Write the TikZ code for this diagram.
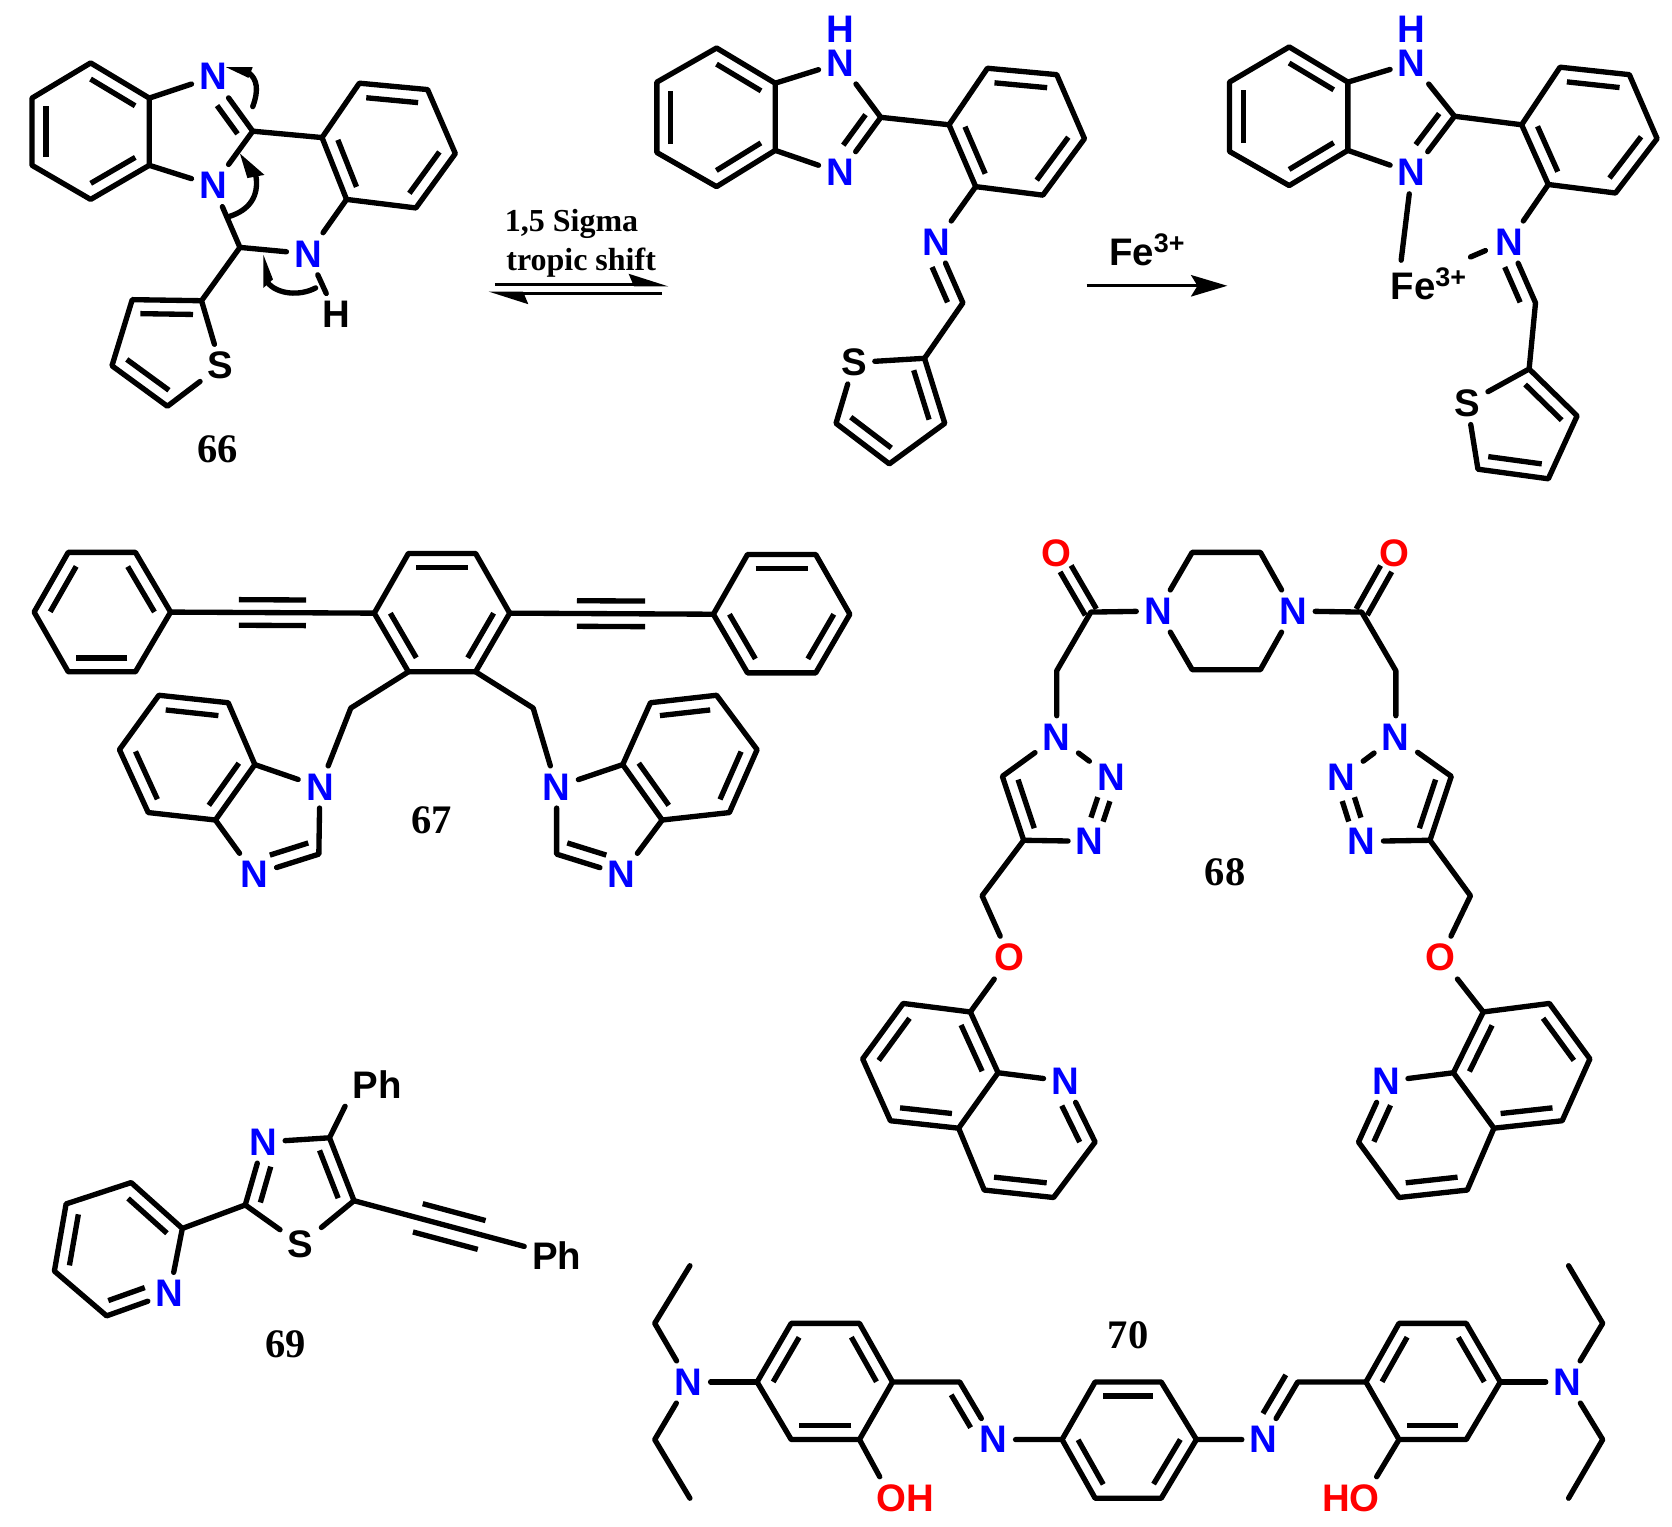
\documentclass[tikz,border=0pt]{standalone}
\usepackage{fontspec}
\setmainfont{Liberation Serif}
\setsansfont{Liberation Sans}
\usetikzlibrary{calc, arrows.meta}

% line beside the bond #1--#2, on the right when walking from #1 to #2
\newcommand{\sidebond}[5]{\draw [inner] ($(#1)!#3!(#2)!#5!-90:(#2)$) -- ($(#2)!#4!(#1)!#5!90:(#1)$);}
\newcommand{\ringbond}[2]{\sidebond{#1}{#2}{.12}{.12}{6.5pt}}

\definecolor{atomblue}{RGB}{0,0,255}
\definecolor{atomred}{RGB}{255,0,0}

\tikzset{
	bond/.style = {line width = 2.5pt, line cap = round, line join = round},
	inner/.style = {line width = 2.5pt},
	atom/.style = {font = \sffamily\bfseries\fontsize{18}{18}\selectfont, inner sep = 3.5pt},
	natom/.style = {atom, text = atomblue},
	oatom/.style = {atom, text = atomred},
	tag/.style = {font = \bfseries\fontsize{19}{19}\selectfont, inner sep = 0pt},
	note/.style = {font = \bfseries\fontsize{15}{15}\selectfont, inner sep = 0pt},
	halfarrow/.style = {line width = 1.6pt, -{Stealth[harpoon, length = 16pt, width = 10pt, inset = 2pt]}},
}

\begin{document}
\begin{tikzpicture}[x = 0.5pt, y = -0.5pt]

	\useasboundingbox (0, 0) rectangle (1568, 1432);

	% Compound 66
	\coordinate (a1) at (85, 59); \coordinate (a2) at (140, 92); \coordinate (a3) at (140, 155);
	\coordinate (a4) at (85, 187); \coordinate (a5) at (30, 155); \coordinate (a6) at (30, 92);
	\coordinate (b1) at (302, 129); \coordinate (b2) at (337, 78); \coordinate (b3) at (401, 84);
	\coordinate (b4) at (427, 144); \coordinate (b5) at (390, 195); \coordinate (b6) at (325, 187);
	\coordinate (t1) at (189, 282); \coordinate (t2) at (124, 281); \coordinate (t3) at (105, 343);
	\coordinate (t4) at (157, 381);
	\coordinate (a-c) at (237, 123); \coordinate (a-ch) at (225, 232);
	\node [natom] (a-n1) at (200, 72) {N};
	\node [natom] (a-n2) at (200, 174) {N};
	\node [natom] (a-n3) at (289, 238) {N};
	\node [atom] (a-h) at (315, 295) {H};
	\node [atom] (a-s) at (207, 343) {S};
	\node [tag] (tag66) at (204, 421) {66};

	\draw [bond] (a1) -- (a2) -- (a3) -- (a4) -- (a5) -- (a6) -- cycle;
	\draw [bond] (a2) -- (a-n1) -- (a-c) -- (a-n2) -- (a3);
	\draw [bond] (b1) -- (b2) -- (b3) -- (b4) -- (b5) -- (b6) -- cycle;
	\draw [bond] (a-c) -- (b1);
	\draw [bond] (a-n2) -- (a-ch) -- (a-n3) -- (b6);
	\draw [bond] (a-n3) -- (a-h);
	\draw [bond] (a-ch) -- (t1) -- (t2) -- (t3) -- (t4) -- (a-s) -- (t1);
	\ringbond{a1}{a2} \ringbond{a3}{a4} \ringbond{a5}{a6}
	\ringbond{b2}{b3} \ringbond{b4}{b5} \ringbond{b6}{b1}
	\ringbond{t2}{t1} \ringbond{t4}{t3}
	\sidebond{a-n1}{a-c}{.38}{.1}{6.5pt}

	% Curly arrows on 66
	\coordinate (ca1) at (237, 100); \coordinate (ca2) at (233, 68);
	\coordinate (ca3) at (212, 63); \coordinate (ca4) at (237, 63); \coordinate (ca5) at (233, 73);
	\draw [bond] (ca1) .. controls (243, 84) and (241, 74) .. (ca2);
	\fill (ca3) -- (ca4) -- (ca5) -- cycle;
	\coordinate (cb1) at (215, 203); \coordinate (cb2) at (240, 165);
	\coordinate (cb3) at (225, 144); \coordinate (cb4) at (232, 167); \coordinate (cb5) at (248, 164);
	\draw [bond] (cb1) .. controls (234, 197) and (243, 184) .. (cb2);
	\fill (cb3) -- (cb4) -- (cb5) -- cycle;
	\coordinate (cc1) at (296, 270); \coordinate (cc2) at (251, 265);
	\coordinate (cc3) at (247, 239); \coordinate (cc4) at (247, 270); \coordinate (cc5) at (256, 262);
	\draw [bond] (cc1) .. controls (281, 278) and (260, 276) .. (cc2);
	\fill (cc3) -- (cc4) -- (cc5) -- cycle;

	% Shift arrows
	\node [note] (shift1) at (536, 210) {1,5 Sigma};
	\node [note] (shift2) at (545, 246) {tropic shift};
	\coordinate (up1) at (464, 267); \coordinate (up2) at (627, 267);
	\coordinate (dn1) at (621, 275); \coordinate (dn2) at (458, 275);
	\draw [halfarrow] (up1) -- (up2);
	\draw [halfarrow] (dn1) -- (dn2);

	% Open form
	\coordinate (c1) at (672, 45); \coordinate (c2) at (727, 78); \coordinate (c3) at (727, 141);
	\coordinate (c4) at (672, 175); \coordinate (c5) at (616, 143); \coordinate (c6) at (616, 77);
	\coordinate (d1) at (890, 117); \coordinate (d2) at (926, 64); \coordinate (d3) at (991, 70);
	\coordinate (d4) at (1017, 130); \coordinate (d5) at (978, 183); \coordinate (d6) at (915, 175);
	\coordinate (e1) at (867, 336); \coordinate (e3) at (784, 397); \coordinate (e4) at (834, 435);
	\coordinate (e5) at (886, 397);
	\coordinate (c-c) at (826, 110); \coordinate (c-ch) at (903, 284);
	\node [natom] (c-n1) at (788, 59) {N};
	\node [natom, inner sep = 0pt] (c-h) at (788, 27) {H};
	\node [natom] (c-n2) at (788, 162) {N};
	\node [natom] (c-n3) at (878, 227) {N};
	\node [atom] (c-s) at (801, 340) {S};

	\draw [bond] (c1) -- (c2) -- (c3) -- (c4) -- (c5) -- (c6) -- cycle;
	\draw [bond] (c2) -- (c-n1) -- (c-c) -- (c-n2) -- (c3);
	\draw [bond] (d1) -- (d2) -- (d3) -- (d4) -- (d5) -- (d6) -- cycle;
	\draw [bond] (c-c) -- (d1);
	\draw [bond] (d6) -- (c-n3) -- (c-ch) -- (e1) -- (c-s) -- (e3) -- (e4) -- (e5) -- (e1);
	\ringbond{c1}{c2} \ringbond{c3}{c4} \ringbond{c5}{c6}
	\ringbond{d2}{d3} \ringbond{d4}{d5} \ringbond{d6}{d1}
	\ringbond{e1}{e5} \ringbond{e4}{e3}
	\sidebond{c-c}{c-n2}{.1}{.35}{6.5pt}
	\sidebond{c-n3}{c-ch}{.32}{.1}{6.5pt}

	% Fe arrow
	\node [atom, inner sep = 0pt] (fe-a) at (1076, 234) {Fe\textsuperscript{3+}};
	\coordinate (fe1) at (1019, 268); \coordinate (fe2) at (1151, 268);
	\draw [line width = 1.6pt, -{Stealth[length = 17pt, width = 10pt, inset = 3pt]}] (fe1) -- (fe2);

	% Fe complex
	\coordinate (f1) at (1209, 44); \coordinate (f2) at (1264, 77); \coordinate (f3) at (1264, 141);
	\coordinate (f4) at (1209, 174); \coordinate (f5) at (1153, 142); \coordinate (f6) at (1153, 77);
	\coordinate (g1) at (1427, 117); \coordinate (g2) at (1463, 63); \coordinate (g3) at (1528, 70);
	\coordinate (g4) at (1554, 130); \coordinate (g5) at (1515, 181); \coordinate (g6) at (1452, 173);
	\coordinate (h1) at (1434, 346); \coordinate (h3) at (1386, 440); \coordinate (h4) at (1452, 449);
	\coordinate (h5) at (1479, 390);
	\coordinate (f-c) at (1364, 109); \coordinate (f-ch) at (1440, 284);
	\coordinate (f-end) at (1314, 244); \coordinate (dash1) at (1379, 241); \coordinate (dash2) at (1393, 235);
	\node [natom] (f-n1) at (1324, 59) {N};
	\node [natom, inner sep = 0pt] (f-h) at (1324, 27) {H};
	\node [natom] (f-n2) at (1324, 162) {N};
	\node [natom] (f-n3) at (1415, 227) {N};
	\node [atom] (f-s) at (1376, 378) {S};
	\node [atom, inner sep = 0pt] (fe-b) at (1340, 266) {Fe\textsuperscript{3+}};

	\draw [bond] (f1) -- (f2) -- (f3) -- (f4) -- (f5) -- (f6) -- cycle;
	\draw [bond] (f2) -- (f-n1) -- (f-c) -- (f-n2) -- (f3);
	\draw [bond] (g1) -- (g2) -- (g3) -- (g4) -- (g5) -- (g6) -- cycle;
	\draw [bond] (f-c) -- (g1);
	\draw [bond] (g6) -- (f-n3) -- (f-ch) -- (h1) -- (f-s) -- (h3) -- (h4) -- (h5) -- (h1);
	\draw [bond] (f-n2) -- (f-end);
	\draw [bond] (dash1) -- (dash2);
	\ringbond{f1}{f2} \ringbond{f3}{f4} \ringbond{f5}{f6}
	\ringbond{g2}{g3} \ringbond{g4}{g5} \ringbond{g6}{g1}
	\ringbond{h1}{h5} \ringbond{h4}{h3}
	\sidebond{f-c}{f-n2}{.1}{.35}{6.5pt}
	\sidebond{f-n3}{f-ch}{.32}{.1}{6.5pt}

	% Compound 67
	\coordinate (i1) at (32, 574); \coordinate (i2) at (64, 518); \coordinate (i3) at (127, 518);
	\coordinate (i4) at (160, 574); \coordinate (i5) at (127, 630); \coordinate (i6) at (64, 630);
	\coordinate (k1) at (351, 575); \coordinate (k2) at (383, 519); \coordinate (k3) at (446, 519);
	\coordinate (k4) at (478, 575); \coordinate (k5) at (446, 630); \coordinate (k6) at (383, 630);
	\coordinate (l1) at (669, 576); \coordinate (l2) at (701, 520); \coordinate (l3) at (765, 520);
	\coordinate (l4) at (797, 576); \coordinate (l5) at (765, 631); \coordinate (l6) at (701, 631);
	\coordinate (m1) at (239, 717); \coordinate (m2) at (214, 659); \coordinate (m3) at (149, 652);
	\coordinate (m4) at (112, 703); \coordinate (m5) at (139, 762); \coordinate (m6) at (202, 769);
	\coordinate (n1) at (584, 717); \coordinate (n2) at (610, 659); \coordinate (n3) at (672, 652);
	\coordinate (n4) at (710, 703); \coordinate (n5) at (684, 762); \coordinate (n6) at (621, 769);
	\coordinate (m-ch) at (329, 664); \coordinate (m-c) at (299, 801);
	\coordinate (n-ch) at (500, 664); \coordinate (n-c) at (522, 801);
	\node [natom] (m-n1) at (300, 738) {N};
	\node [natom] (m-n2) at (239, 820) {N};
	\node [natom] (n-n1) at (522, 738) {N};
	\node [natom] (n-n2) at (583, 820) {N};
	\node [tag] (tag67) at (405, 769) {67};

	\draw [bond] (i1) -- (i2) -- (i3) -- (i4) -- (i5) -- (i6) -- cycle;
	\draw [bond] (k1) -- (k2) -- (k3) -- (k4) -- (k5) -- (k6) -- cycle;
	\draw [bond] (l1) -- (l2) -- (l3) -- (l4) -- (l5) -- (l6) -- cycle;
	\draw [bond] (i4) -- (k1);
	\draw [bond] (k4) -- (l1);
	\draw [bond] (k6) -- (m-ch) -- (m-n1) -- (m-c) -- (m-n2) -- (m6);
	\draw [bond] (k5) -- (n-ch) -- (n-n1) -- (n-c) -- (n-n2) -- (n6);
	\draw [bond] (m1) -- (m2) -- (m3) -- (m4) -- (m5) -- (m6) -- cycle;
	\draw [bond] (n1) -- (n2) -- (n3) -- (n4) -- (n5) -- (n6) -- cycle;
	\draw [bond] (m-n1) -- (m1);
	\draw [bond] (n-n1) -- (n1);
	\ringbond{i1}{i2} \ringbond{i3}{i4} \ringbond{i5}{i6}
	\ringbond{k2}{k3} \ringbond{k4}{k5} \ringbond{k6}{k1}
	\ringbond{l2}{l3} \ringbond{l4}{l5} \ringbond{l6}{l1}
	\ringbond{m3}{m2} \ringbond{m5}{m4} \ringbond{m1}{m6}
	\ringbond{n2}{n3} \ringbond{n4}{n5} \ringbond{n6}{n1}
	\sidebond{m-c}{m-n2}{.1}{.3}{6.5pt}
	\sidebond{n-n2}{n-c}{.3}{.1}{6.5pt}
	\sidebond{i4}{k1}{.335}{.335}{6pt} \sidebond{k1}{i4}{.335}{.335}{6pt}
	\sidebond{k4}{l1}{.33}{.335}{6pt} \sidebond{l1}{k4}{.335}{.33}{6pt}

	% Compound 68
	\coordinate (p1) at (1118, 518); \coordinate (p2) at (1182, 518);
	\coordinate (p3) at (1182, 628); \coordinate (p4) at (1118, 628);
	\coordinate (u-co) at (1023, 574); \coordinate (u-ch) at (991, 629);
	\coordinate (u-c4) at (960, 788); \coordinate (u-c5) at (940, 728); \coordinate (u-cq) at (921, 840);
	\coordinate (v-co) at (1277, 574); \coordinate (v-ch) at (1309, 629);
	\coordinate (v-c4) at (1341, 788); \coordinate (v-c5) at (1361, 728); \coordinate (v-cq) at (1379, 840);
	\coordinate (q1) at (910, 949); \coordinate (q2) at (847, 941); \coordinate (q3) at (809, 993);
	\coordinate (q4) at (835, 1051); \coordinate (q5) at (899, 1058); \coordinate (q6) at (936, 1006);
	\coordinate (q7) at (1027, 1071); \coordinate (q8) at (988, 1123); \coordinate (q9) at (923, 1116);
	\coordinate (r1) at (1391, 949); \coordinate (r2) at (1453, 941); \coordinate (r3) at (1491, 993);
	\coordinate (r4) at (1465, 1051); \coordinate (r5) at (1401, 1058); \coordinate (r6) at (1363, 1006);
	\coordinate (r7) at (1274, 1071); \coordinate (r8) at (1312, 1123); \coordinate (r9) at (1376, 1116);
	\node [natom] (p-n1) at (1086, 573) {N};
	\node [natom] (p-n2) at (1213, 573) {N};
	\node [oatom] (u-o1) at (991, 519) {O};
	\node [natom] (u-n1) at (991, 691) {N};
	\node [natom] (u-n2) at (1042, 729) {N};
	\node [natom] (u-n3) at (1022, 789) {N};
	\node [oatom] (u-o2) at (947, 898) {O};
	\node [natom] (q-n) at (999, 1014) {N};
	\node [oatom] (v-o1) at (1308, 519) {O};
	\node [natom] (v-n1) at (1309, 691) {N};
	\node [natom] (v-n2) at (1258, 729) {N};
	\node [natom] (v-n3) at (1277, 789) {N};
	\node [oatom] (v-o2) at (1351, 898) {O};
	\node [natom] (r-n) at (1300, 1014) {N};
	\node [tag] (tag68) at (1149, 818) {68};

	\draw [bond] (p-n1) -- (p1) -- (p2) -- (p-n2) -- (p3) -- (p4) -- (p-n1);
	\draw [bond] (p-n1) -- (u-co) -- (u-ch) -- (u-n1) -- (u-n2);
	\draw [bond] (u-n1) -- (u-c5) -- (u-c4) -- (u-n3);
	\draw [bond] (u-c4) -- (u-cq) -- (u-o2) -- (q1);
	\draw [bond] (q1) -- (q2) -- (q3) -- (q4) -- (q5) -- (q6) -- cycle;
	\draw [bond] (q6) -- (q-n) -- (q7) -- (q8) -- (q9) -- (q5);
	\draw [bond] (p-n2) -- (v-co) -- (v-ch) -- (v-n1) -- (v-n2);
	\draw [bond] (v-n1) -- (v-c5) -- (v-c4) -- (v-n3);
	\draw [bond] (v-c4) -- (v-cq) -- (v-o2) -- (r1);
	\draw [bond] (r1) -- (r2) -- (r3) -- (r4) -- (r5) -- (r6) -- cycle;
	\draw [bond] (r6) -- (r-n) -- (r7) -- (r8) -- (r9) -- (r5);
	\sidebond{u-o1}{u-co}{.26}{0}{3pt} \sidebond{u-co}{u-o1}{0}{.26}{3pt}
	\sidebond{v-o1}{v-co}{.26}{0}{3pt} \sidebond{v-co}{v-o1}{0}{.26}{3pt}
	\sidebond{u-n2}{u-n3}{.34}{.34}{3pt} \sidebond{u-n3}{u-n2}{.34}{.34}{3pt}
	\sidebond{v-n2}{v-n3}{.34}{.34}{3pt} \sidebond{v-n3}{v-n2}{.34}{.34}{3pt}
	\ringbond{u-c4}{u-c5} \ringbond{v-c5}{v-c4}
	\ringbond{q1}{q6} \ringbond{q3}{q2} \ringbond{q5}{q4} \ringbond{q8}{q9}
	\ringbond{r6}{r1} \ringbond{r2}{r3} \ringbond{r4}{r5} \ringbond{r9}{r8}
	\sidebond{q-n}{q7}{.3}{.1}{6.5pt}
	\sidebond{r7}{r-n}{.1}{.3}{6.5pt}

	% Compound 69
	\coordinate (w1) at (309, 1067); \coordinate (w2) at (332, 1126); \coordinate (w3) at (230, 1130);
	\coordinate (y1) at (171, 1152); \coordinate (y2) at (123, 1109); \coordinate (y3) at (62, 1129);
	\coordinate (y4) at (51, 1192); \coordinate (y5) at (100, 1234);
	\node [natom] (w-n) at (247, 1071) {N};
	\node [atom] (w-s) at (282, 1167) {S};
	\node [natom] (y-n) at (159, 1213) {N};
	\node [atom] (w-ph1) at (354, 1017) {Ph};
	\node [atom] (w-ph2) at (522, 1177) {Ph};
	\node [tag] (tag69) at (268, 1261) {69};

	\draw [bond] (w-ph1.south west) -- (w1) -- (w2) -- (w-s) -- (w3) -- (w-n) -- (w1);
	\draw [bond] (w2) -- (w-ph2);
	\draw [bond] (w3) -- (y1) -- (y2) -- (y3) -- (y4) -- (y5) -- (y-n) -- (y1);
	\ringbond{w1}{w2} \sidebond{w3}{w-n}{.1}{.33}{6.5pt}
	\ringbond{y2}{y1} \ringbond{y4}{y3} \sidebond{y-n}{y5}{.32}{.1}{6.5pt}
	\sidebond{w2}{w-ph2}{.31}{.37}{7pt} \sidebond{w-ph2}{w2}{.37}{.32}{7pt}

	% Compound 70
	\coordinate (z1) at (710, 1296); \coordinate (z2) at (742, 1241); \coordinate (z3) at (806, 1241);
	\coordinate (z4) at (837, 1296); \coordinate (z5) at (806, 1350); \coordinate (z6) at (742, 1350);
	\coordinate (s1) at (996, 1350); \coordinate (s2) at (1027, 1296); \coordinate (s3) at (1089, 1296);
	\coordinate (s4) at (1122, 1350); \coordinate (s5) at (1089, 1405); \coordinate (s6) at (1027, 1405);
	\coordinate (o1) at (1281, 1296); \coordinate (o2) at (1312, 1241); \coordinate (o3) at (1375, 1241);
	\coordinate (o4) at (1407, 1296); \coordinate (o5) at (1375, 1350); \coordinate (o6) at (1312, 1350);
	\coordinate (z-ch) at (900, 1296); \coordinate (o-ch) at (1217, 1296);
	\coordinate (et1) at (614, 1241); \coordinate (et2) at (647, 1187);
	\coordinate (et3) at (614, 1350); \coordinate (et4) at (647, 1405);
	\coordinate (et5) at (1503, 1241); \coordinate (et6) at (1471, 1187);
	\coordinate (et7) at (1503, 1350); \coordinate (et8) at (1471, 1405);
	\node [natom] (z-n1) at (646, 1296) {N};
	\node [natom] (z-n2) at (932, 1350) {N};
	\node [natom] (o-n2) at (1185, 1350) {N};
	\node [natom] (o-n1) at (1470, 1296) {N};
	\node [oatom] (z-oh) at (849, 1405) {OH};
	\node [oatom] (o-oh) at (1267, 1405) {HO};
	\node [tag] (tag70) at (1058, 1252) {70};

	\draw [bond] (et2) -- (et1) -- (z-n1) -- (et3) -- (et4);
	\draw [bond] (z-n1) -- (z1);
	\draw [bond] (z1) -- (z2) -- (z3) -- (z4) -- (z5) -- (z6) -- cycle;
	\draw [bond] (z5) -- (z-oh.140);
	\draw [bond] (z4) -- (z-ch) -- (z-n2) -- (s1);
	\draw [bond] (s1) -- (s2) -- (s3) -- (s4) -- (s5) -- (s6) -- cycle;
	\draw [bond] (s4) -- (o-n2) -- (o-ch) -- (o1);
	\draw [bond] (o1) -- (o2) -- (o3) -- (o4) -- (o5) -- (o6) -- cycle;
	\draw [bond] (o6) -- (o-oh.40);
	\draw [bond] (et6) -- (et5) -- (o-n1) -- (et7) -- (et8);
	\draw [bond] (o4) -- (o-n1);
	\ringbond{z1}{z2} \ringbond{z3}{z4} \ringbond{z5}{z6}
	\ringbond{s2}{s3} \ringbond{s4}{s5} \ringbond{s6}{s1}
	\ringbond{o1}{o2} \ringbond{o3}{o4} \ringbond{o5}{o6}
	\sidebond{z-ch}{z-n2}{.1}{.33}{6.5pt}
	\sidebond{o-ch}{o-n2}{0}{.33}{6.5pt}

\end{tikzpicture}
\end{document}
